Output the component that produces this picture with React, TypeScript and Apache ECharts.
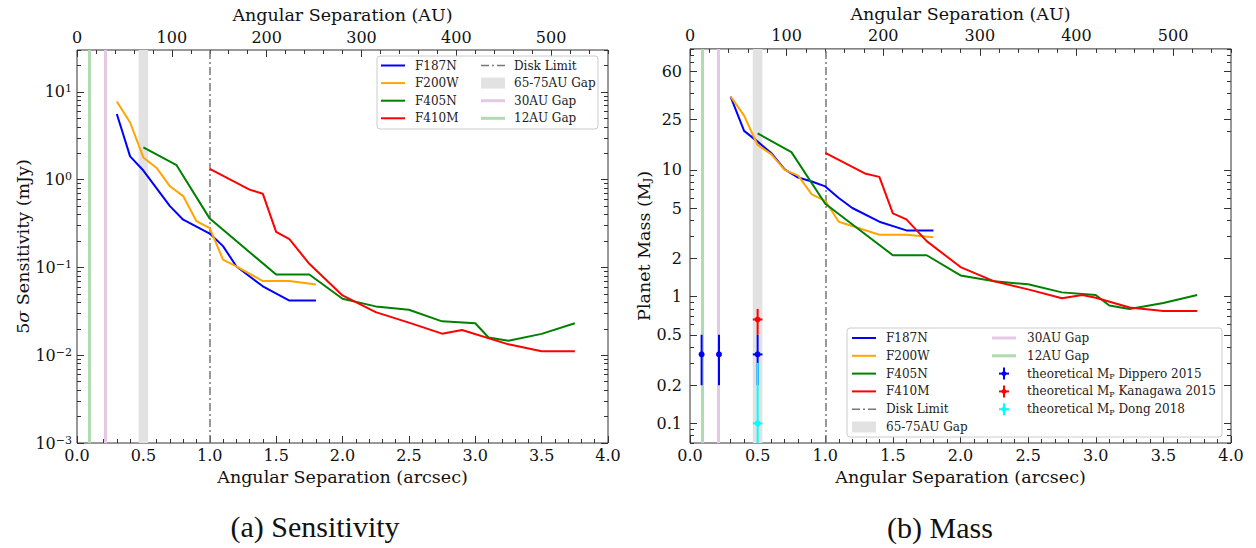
import React, { useEffect, useRef } from "react";
import * as echarts from "echarts";

// ---------- constants & data ----------
const AU_PER_ARCSEC = 140;
const FONT = "DejaVu Serif, serif";
const CAP_FONT = "Liberation Serif, serif";

// tick labels
const arcsecTicks = [0, 0.5, 1, 1.5, 2, 2.5, 3, 3.5, 4];
const auTicks = [0, 100, 200, 300, 400, 500];
const sensTicks = [0.001, 0.01, 0.1, 1, 10];
const massTicks = [0.1, 0.2, 0.5, 1, 2, 5, 10, 25, 60];

// annotations (AU)
const gap12AU = 12;
const gap30AU = 30;
const gapBandAU = [65, 75];
const diskLimitArcsec = 1.0;

// (a) Sensitivity, mJy
const sensF187N_x = [0.3, 0.4, 0.5, 0.7, 0.8, 1.0, 1.1, 1.2, 1.4, 1.6, 1.8];
const sensF187N_y = [5.6, 1.84, 1.27, 0.5, 0.35, 0.243, 0.175, 0.103, 0.061, 0.042, 0.042];
const sensF200W_x = [0.3, 0.4, 0.5, 0.6, 0.7, 0.8, 0.9, 1.0, 1.1, 1.2, 1.4, 1.6, 1.8];
const sensF200W_y = [7.76, 4.48, 1.79, 1.36, 0.84, 0.65, 0.336, 0.28, 0.123, 0.103, 0.07, 0.07, 0.064];
const sensF405N_x = [0.5, 0.75, 1.0, 1.5, 1.75, 2.0, 2.25, 2.5, 2.75, 3.0, 3.1, 3.25, 3.5, 3.75];
const sensF405N_y = [2.33, 1.46, 0.36, 0.083, 0.083, 0.044, 0.036, 0.033, 0.0243, 0.0231, 0.0159, 0.0146, 0.0175, 0.0231];
const sensF410M_x = [1.0, 1.3, 1.4, 1.5, 1.6, 1.75, 2.0, 2.25, 2.5, 2.75, 2.9, 3.25, 3.5, 3.75];
const sensF410M_y = [1.33, 0.77, 0.69, 0.254, 0.21, 0.11, 0.048, 0.031, 0.0235, 0.0176, 0.0194, 0.0133, 0.0111, 0.0111];

// (b) Mass, M_J
const massF187N_x = [0.3, 0.4, 0.5, 0.6, 0.7, 0.8, 0.9, 1.0, 1.1, 1.2, 1.4, 1.6, 1.8];
const massF187N_y = [37.8, 20.3, 16.7, 13.6, 10.1, 8.7, 8.1, 7.4, 6.0, 5.0, 3.9, 3.33, 3.33];
const massF200W_x = [0.3, 0.4, 0.5, 0.6, 0.7, 0.8, 0.9, 1.0, 1.1, 1.4, 1.6, 1.8];
const massF200W_y = [38, 26.8, 15.7, 13.3, 10.0, 9.0, 6.4, 5.7, 3.9, 3.08, 3.08, 2.94];
const massF405N_x = [0.5, 0.75, 1.0, 1.5, 1.75, 2.0, 2.25, 2.5, 2.75, 3.0, 3.1, 3.25, 3.5, 3.75];
const massF405N_y = [19.4, 13.8, 5.4, 2.12, 2.12, 1.47, 1.32, 1.25, 1.08, 1.03, 0.85, 0.8, 0.89, 1.03];
const massF410M_x = [1.0, 1.3, 1.4, 1.5, 1.6, 1.75, 2.0, 2.25, 2.5, 2.75, 2.9, 3.0, 3.25, 3.5, 3.75];
const massF410M_y = [13.6, 9.3, 8.8, 4.53, 4.07, 2.74, 1.71, 1.32, 1.14, 0.97, 1.03, 0.98, 0.82, 0.77, 0.77];

// theoretical planet masses (x in AU, value, low, high, x-error in AU)
const dipperoAU = [12, 30, 70];
const dipperoM = [0.35, 0.35, 0.35];
const dipperoLo = [0.2, 0.2, 0.2];
const dipperoHi = [0.5, 0.5, 0.5];
const dipperoXerrAU = [0, 0, 5];
const kanagawaAU = [70];
const kanagawaM = [0.66];
const kanagawaLo = [0.5];
const kanagawaHi = [0.8];
const kanagawaXerrAU = [5];
const dongAU = [70];
const dongM = [0.1];
const dongLo = [0.03];
const dongHi = [0.3];
const dongXerrAU = [5];

const legendA = ["F187N", "F200W", "F405N", "F410M", "Disk Limit", "65-75AU Gap", "30AU Gap", "12AU Gap"];
const legendB = [
  "F187N", "F200W", "F405N", "F410M", "Disk Limit", "65-75AU Gap",
  "30AU Gap", "12AU Gap",
  "theoretical M{sub|P} Dippero 2015",
  "theoretical M{sub|P} Kanagawa 2015",
  "theoretical M{sub|P} Dong 2018",
];

const C_BLUE = "#0000ff";
const C_ORANGE = "#ffa500";
const C_GREEN = "#008000";
const C_RED = "#ff0000";
const C_CYAN = "#00ffff";
const C_G12 = "#b0dab0";
const C_G30 = "#e4c8e4";
const C_BAND = "#e2e2e2";
const C_DISK = "#777777";
const C_AX = "#333333";

const L = Math.log10;

// ---------- helpers ----------
function minorLog(lo: number, hi: number): number[] {
  const out: number[] = [];
  for (let n = -4; n <= 3; n++) {
    for (let k = 1; k <= 9; k++) {
      const v = k * Math.pow(10, n);
      if (v >= lo && v <= hi) out.push(L(v));
    }
  }
  return out;
}
function stepVals(lo: number, hi: number, step: number): number[] {
  const out: number[] = [];
  const n = Math.round((hi - lo) / step);
  for (let i = 0; i <= n; i++) out.push(+(lo + i * step).toFixed(6));
  return out;
}

const tickStyle = { color: C_AX, width: 1 };
const labelBase = { color: "#111", fontFamily: FONT, fontSize: 16 };
const noLine = { show: false, onZero: false };

function xPair(grid: number, position: string, min: number, max: number, majors: number[], minors: number[], fmt: any, name: string, nameGap: number, margin: number) {
  return [
    {
      type: "value", gridIndex: grid, position, min, max,
      axisLine: noLine, splitLine: { show: false },
      axisTick: { show: true, inside: true, length: 7, customValues: majors, lineStyle: tickStyle },
      axisLabel: { ...labelBase, customValues: majors, formatter: fmt, margin },
      name, nameLocation: "middle", nameGap,
      nameTextStyle: { color: "#111", fontFamily: FONT, fontSize: 17.5 },
    },
    {
      type: "value", gridIndex: grid, position, min, max,
      axisLine: noLine, splitLine: { show: false },
      axisTick: { show: true, inside: true, length: 4, customValues: minors, lineStyle: tickStyle },
      axisLabel: { show: false },
    },
  ];
}
function yPair(grid: number, position: string, min: number, max: number, majors: number[], minors: number[], fmt: any, showLabel: boolean, name: string, nameGap: number, margin: number, rich: any) {
  return [
    {
      type: "value", gridIndex: grid, position, min, max,
      axisLine: noLine, splitLine: { show: false },
      axisTick: { show: true, inside: true, length: 7, customValues: majors, lineStyle: tickStyle },
      axisLabel: { ...labelBase, show: showLabel, customValues: majors, formatter: fmt, margin, rich },
      name: showLabel ? name : "", nameLocation: "middle", nameGap,
      nameTextStyle: {
        color: "#111", fontFamily: FONT, fontSize: 17.5,
        rich: {
          it: { fontFamily: FONT, fontSize: 17.5, fontStyle: "italic", color: "#111" },
          sub: { fontFamily: FONT, fontSize: 11, color: "#111", verticalAlign: "bottom" },
        },
      },
    },
    {
      type: "value", gridIndex: grid, position, min, max,
      axisLine: noLine, splitLine: { show: false },
      axisTick: { show: true, inside: true, length: 4, customValues: minors, lineStyle: tickStyle },
      axisLabel: { show: false },
    },
  ];
}

function lineSeries(name: string, xs: number[], ys: number[], color: string, g: number) {
  return {
    type: "line", name, xAxisIndex: 4 * g, yAxisIndex: 4 * g,
    data: xs.map((x, i) => [x, L(ys[i])]),
    showSymbol: false, symbol: "none", clip: true, z: 5,
    lineStyle: { color, width: 2 }, itemStyle: { color },
  };
}

function errSeries(name: string, au: number[], m: number[], lo: number[], hi: number[], xe: number[], color: string) {
  return {
    type: "custom", name, xAxisIndex: 4, yAxisIndex: 4, z: 6,
    data: au.map((a, i) => [a / AU_PER_ARCSEC, L(m[i]), L(lo[i]), L(hi[i]), xe[i] / AU_PER_ARCSEC]),
    encode: { x: 0, y: 1 },
    renderItem: (params: any, api: any) => {
      const x = api.value(0), y = api.value(1), ylo = api.value(2), yhi = api.value(3), xer = api.value(4);
      const cs = params.coordSys;
      const cy = (v: number) => Math.max(cs.y, Math.min(cs.y + cs.height, v));
      const c = api.coord([x, y]);
      const pt = api.coord([x, yhi]);
      const pb = api.coord([x, ylo]);
      const children: any[] = [
        { type: "line", shape: { x1: c[0], y1: cy(pt[1]), x2: c[0], y2: cy(pb[1]) }, style: { stroke: color, lineWidth: 2 } },
      ];
      if (xer > 0) {
        const l = api.coord([x - xer, y]);
        const r = api.coord([x + xer, y]);
        children.push({ type: "line", shape: { x1: l[0], y1: c[1], x2: r[0], y2: c[1] }, style: { stroke: color, lineWidth: 2 } });
      }
      children.push({ type: "circle", shape: { cx: c[0], cy: c[1], r: 3 }, style: { fill: color } });
      return { type: "group", children };
    },
  };
}

function marks() {
  return {
    markLine: {
      silent: true, symbol: ["none", "none"], label: { show: false }, animation: false,
      data: [
        { xAxis: gap12AU / AU_PER_ARCSEC, lineStyle: { color: C_G12, width: 3, type: "solid" } },
        { xAxis: gap30AU / AU_PER_ARCSEC, lineStyle: { color: C_G30, width: 3, type: "solid" } },
        { xAxis: diskLimitArcsec, lineStyle: { color: C_DISK, width: 1.5, type: [8, 3, 2, 3] } },
      ],
    },
    markArea: {
      silent: true, itemStyle: { color: C_BAND },
      data: [[{ xAxis: gapBandAU[0] / AU_PER_ARCSEC }, { xAxis: gapBandAU[1] / AU_PER_ARCSEC }]],
    },
  };
}

// legend graphics
function handle(kind: string, color: string, x0: number, x1: number, y: number): any[] {
  if (kind === "rect") return [{ type: "rect", shape: { x: x0, y: y - 5.5, width: x1 - x0, height: 11 }, style: { fill: color } }];
  if (kind === "err") {
    const cx = (x0 + x1) / 2;
    return [
      { type: "line", shape: { x1: cx, y1: y - 6, x2: cx, y2: y + 6 }, style: { stroke: color, lineWidth: 2 } },
      { type: "line", shape: { x1: cx - 5, y1: y, x2: cx + 5, y2: y }, style: { stroke: color, lineWidth: 2 } },
      { type: "circle", shape: { cx, cy: y, r: 2.5 }, style: { fill: color } },
    ];
  }
  const w = kind === "thick" ? 3 : kind === "dash" ? 1.5 : 2;
  const dash = kind === "dash" ? [8, 3, 2, 3] : null;
  return [{ type: "line", shape: { x1: x0, y1: y, x2: x1, y2: y }, style: { stroke: color, lineWidth: w, lineDash: dash } }];
}
function txt(x: number, y: number, s: string): any {
  return {
    type: "text", x, y,
    style: {
      text: s, fill: "#222", fontFamily: FONT, fontSize: 12, verticalAlign: "middle", align: "left",
      rich: { sub: { fontFamily: FONT, fontSize: 8, fill: "#222", verticalAlign: "bottom", padding: [6, 0, 0, 0] } },
    },
  };
}

const kindsA = [
  ["line", C_BLUE], ["line", C_ORANGE], ["line", C_GREEN], ["line", C_RED],
  ["dash", C_DISK], ["rect", C_BAND], ["thick", C_G30], ["thick", C_G12],
];
const kindsB = [...kindsA, ["err", C_BLUE], ["err", C_RED], ["err", C_CYAN]];

function legendGraphics(): any[] {
  const out: any[] = [];
  // panel (a)
  out.push({ type: "rect", shape: { x: 377, y: 56, width: 221, height: 73, r: 3 }, style: { fill: "rgba(255,255,255,0.85)", stroke: "#cccccc", lineWidth: 1 }, z: 50 });
  legendA.forEach((lab, i) => {
    const col = i < 4 ? 0 : 1;
    const row = i % 4;
    const y = 65.5 + row * 17.6;
    const hx0 = col === 0 ? 381 : 481;
    const tx = col === 0 ? 415 : 514;
    const [k, c] = kindsA[i] as [string, string];
    handle(k, c, hx0, hx0 + 24, y).forEach((h) => out.push({ ...h, z: 51 }));
    out.push({ ...txt(tx, y, lab), z: 51 });
  });
  // panel (b)
  out.push({ type: "rect", shape: { x: 847, y: 328, width: 375, height: 109, r: 3 }, style: { fill: "rgba(255,255,255,0.85)", stroke: "#cccccc", lineWidth: 1 }, z: 50 });
  legendB.forEach((lab, i) => {
    const col = i < 6 ? 0 : 1;
    const row = col === 0 ? i : i - 6;
    const y = 338 + row * 17.8;
    const hx0 = col === 0 ? 852 : 992;
    const tx = col === 0 ? 886 : 1027;
    const [k, c] = kindsB[i] as [string, string];
    handle(k, c, hx0, hx0 + 24, y).forEach((h) => out.push({ ...h, z: 51 }));
    out.push({ ...txt(tx, y, lab), z: 51 });
  });
  // captions
  out.push({ type: "text", x: 315, y: 526, style: { text: "(a) Sensitivity", fill: "#111", fontFamily: CAP_FONT, fontSize: 30, align: "center", verticalAlign: "middle" } });
  out.push({ type: "text", x: 940, y: 527, style: { text: "(b) Mass", fill: "#111", fontFamily: CAP_FONT, fontSize: 30, align: "center", verticalAlign: "middle" } });
  return out;
}

function buildOption() {
  const xMin = 0, xMax = 4;
  const auMax = xMax * AU_PER_ARCSEC;
  const arcMinors = stepVals(0, 4, 0.1);
  const auMinors = stepVals(0, auMax, 20);
  const fmtArc = (v: number) => v.toFixed(1);
  const fmtAU = (v: number) => String(Math.round(v));

  const sMin = L(0.001), sMax = L(30);
  const mMin = L(0.07), mMax = L(90);
  const sMajors = sensTicks.map(L);
  const mMajors = massTicks.map(L);
  const sMinors = minorLog(0.001, 30);
  const mMinors = minorLog(0.07, 90);

  const supRich = { sup: { fontFamily: FONT, fontSize: 11, color: "#111", verticalAlign: "top", padding: [0, 0, 6, 0] } };
  const fmtSens = (v: number) => {
    const e = Math.round(v);
    return "10{sup|" + (e < 0 ? "\u2212" + -e : String(e)) + "}";
  };
  const fmtMass = (v: number) => {
    const val = Math.pow(10, v);
    const r = Math.round(val * 10) / 10;
    return r >= 1 ? String(Math.round(r)) : String(r);
  };

  const xAxis = [
    ...xPair(0, "bottom", xMin, xMax, arcsecTicks, arcMinors, fmtArc, "Angular Separation (arcsec)", 25, 4),
    ...xPair(0, "top", 0, auMax, auTicks, auMinors, fmtAU, "Angular Separation (AU)", 26, 5),
    ...xPair(1, "bottom", xMin, xMax, arcsecTicks, arcMinors, fmtArc, "Angular Separation (arcsec)", 25, 4),
    ...xPair(1, "top", 0, auMax, auTicks, auMinors, fmtAU, "Angular Separation (AU)", 23, 5),
  ];
  const yAxis = [
    ...yPair(0, "left", sMin, sMax, sMajors, sMinors, fmtSens, true, "5{it|\u03c3} Sensitivity (mJy)", 44, 5, supRich),
    ...yPair(0, "right", sMin, sMax, sMajors, sMinors, fmtSens, false, "", 0, 5, supRich),
    ...yPair(1, "left", mMin, mMax, mMajors, mMinors, fmtMass, true, "Planet Mass (M{sub|J})", 36, 8, {}),
    ...yPair(1, "right", mMin, mMax, mMajors, mMinors, fmtMass, false, "", 0, 5, {}),
  ];

  const series: any[] = [
    { ...lineSeries("F187N", sensF187N_x, sensF187N_y, C_BLUE, 0), ...marks() },
    lineSeries("F200W", sensF200W_x, sensF200W_y, C_ORANGE, 0),
    lineSeries("F405N", sensF405N_x, sensF405N_y, C_GREEN, 0),
    lineSeries("F410M", sensF410M_x, sensF410M_y, C_RED, 0),
    { ...lineSeries("F187N", massF187N_x, massF187N_y, C_BLUE, 1), ...marks() },
    lineSeries("F200W", massF200W_x, massF200W_y, C_ORANGE, 1),
    lineSeries("F405N", massF405N_x, massF405N_y, C_GREEN, 1),
    lineSeries("F410M", massF410M_x, massF410M_y, C_RED, 1),
    errSeries("Dippero 2015", dipperoAU, dipperoM, dipperoLo, dipperoHi, dipperoXerrAU, C_BLUE),
    errSeries("Kanagawa 2015", kanagawaAU, kanagawaM, kanagawaLo, kanagawaHi, kanagawaXerrAU, C_RED),
    errSeries("Dong 2018", dongAU, dongM, dongLo, dongHi, dongXerrAU, C_CYAN),
  ];

  return {
    animation: false,
    backgroundColor: "#ffffff",
    textStyle: { fontFamily: FONT },
    grid: [
      { left: 77, top: 50, width: 531, height: 393, show: true, borderColor: C_AX, borderWidth: 1, backgroundColor: "transparent" },
      { left: 690, top: 41, width: 541, height: 402, show: true, borderColor: C_AX, borderWidth: 1, backgroundColor: "transparent" },
    ],
    xAxis,
    yAxis,
    series,
    graphic: legendGraphics(),
  };
}

export default function App() {
  const ref = useRef<HTMLDivElement>(null);
  useEffect(() => {
    if (!ref.current) return;
    const chart = echarts.init(ref.current, null, { renderer: "svg" });
    chart.setOption(buildOption() as any);
    return () => chart.dispose();
  }, []);
  return <div ref={ref} style={{ position: "fixed", left: 0, top: 0, width: 1256, height: 548 }} />;
}
